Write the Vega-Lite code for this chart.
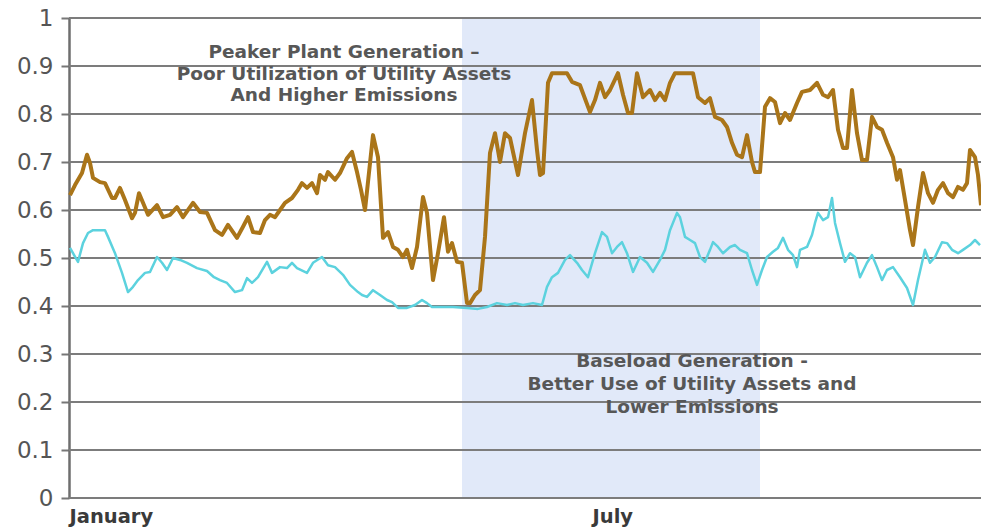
{
  "$schema": "https://vega.github.io/schema/vega-lite/v6.json",
  "width": 912,
  "height": 480,
  "autosize": {"type": "none"},
  "padding": {"left": 69, "top": 18, "right": 0, "bottom": 33},
  "background": "white",
  "config": {"view": {"stroke": null}},
  "layer": [
    {
      "data": {"values": [{"d": 157.2, "e": 276.4}]},
      "mark": {"type": "rect", "color": "#E1E9F9"},
      "encoding": {
        "x": {"field": "d", "type": "quantitative", "scale": {"domain": [0, 364.8]},
          "axis": {"title": null, "values": [0, 209.2], "labelExpr": "datum.value < 100 ? 'January' : 'July'", "labelAlign": "left", "labelFont": "DejaVu Sans", "labelFontWeight": "bold", "labelFontSize": 19.5, "labelColor": "#3a3a3a", "ticks": false, "tickSize": 0, "labelPadding": 9, "domain": false, "grid": false, "labelFlush": false, "labelOverlap": false}},
        "x2": {"field": "e"}
      }
    },
    {
      "data": {"values": [{"v": 0}, {"v": 0.1}, {"v": 0.2}, {"v": 0.3}, {"v": 0.4}, {"v": 0.5}, {"v": 0.6}, {"v": 0.7}, {"v": 0.8}, {"v": 0.9}, {"v": 1}]},
      "mark": {"type": "rule", "color": "#7c7c7c", "strokeWidth": 2},
      "encoding": {
        "y": {"field": "v", "type": "quantitative", "scale": {"domain": [0, 1]},
          "axis": {"title": null, "values": [0, 0.1, 0.2, 0.3, 0.4, 0.5, 0.6, 0.7, 0.8, 0.9, 1], "format": ".1~f", "labelFont": "DejaVu Sans", "labelFontSize": 23, "labelColor": "#555555", "tickSize": 8, "tickColor": "#777777", "tickWidth": 2, "labelPadding": 8, "domainColor": "#6e6e6e", "domainWidth": 2.5, "grid": false}}
      }
    },
    {
      "data": {"values": [
        {"d":0.4,"v":0.631},{"d":2.4,"v":0.652},{"d":5.2,"v":0.677},{"d":7.2,"v":0.715},{"d":8.4,"v":0.698},{"d":9.6,"v":0.667},{"d":12.4,"v":0.658},{"d":14.4,"v":0.656},{"d":17.2,"v":0.625},{"d":18.4,"v":0.625},{"d":20.4,"v":0.646},{"d":22.4,"v":0.621},{"d":25.2,"v":0.583},{"d":26.4,"v":0.594},{"d":28,"v":0.635},{"d":29.6,"v":0.615},{"d":31.6,"v":0.59},{"d":35.2,"v":0.61},{"d":37.6,"v":0.585},{"d":40.4,"v":0.59},{"d":43.2,"v":0.606},{"d":45.6,"v":0.585},{"d":49.6,"v":0.615},{"d":52.4,"v":0.596},{"d":55.2,"v":0.594},{"d":58.4,"v":0.558},{"d":61.2,"v":0.548},{"d":63.6,"v":0.569},{"d":67.2,"v":0.542},{"d":69.6,"v":0.565},{"d":71.6,"v":0.585},{"d":73.6,"v":0.554},{"d":76.4,"v":0.552},{"d":78.4,"v":0.579},{"d":80.4,"v":0.59},{"d":82.4,"v":0.585},{"d":84.4,"v":0.6},{"d":86.4,"v":0.615},{"d":89.2,"v":0.625},{"d":91.6,"v":0.642},{"d":93.2,"v":0.656},{"d":95.2,"v":0.646},{"d":97.2,"v":0.656},{"d":99.2,"v":0.635},{"d":100.4,"v":0.673},{"d":102.4,"v":0.663},{"d":103.6,"v":0.679},{"d":106.4,"v":0.663},{"d":108.4,"v":0.677},{"d":111.2,"v":0.708},{"d":113.2,"v":0.721},{"d":115.2,"v":0.679},{"d":116.8,"v":0.642},{"d":118.4,"v":0.6},{"d":121.6,"v":0.756},{"d":123.6,"v":0.71},{"d":125.6,"v":0.542},{"d":127.6,"v":0.554},{"d":129.6,"v":0.523},{"d":131.6,"v":0.517},{"d":133.6,"v":0.502},{"d":135.2,"v":0.517},{"d":137.2,"v":0.479},{"d":139.2,"v":0.523},{"d":141.6,"v":0.627},{"d":143.2,"v":0.594},{"d":145.6,"v":0.454},{"d":147.6,"v":0.51},{"d":150,"v":0.585},{"d":151.6,"v":0.513},{"d":153.2,"v":0.531},{"d":155.2,"v":0.492},{"d":157.2,"v":0.49},{"d":159.2,"v":0.406},{"d":160.4,"v":0.406},{"d":162.4,"v":0.423},{"d":164.4,"v":0.433},{"d":166.4,"v":0.544},{"d":168.4,"v":0.719},{"d":170.4,"v":0.76},{"d":172.4,"v":0.7},{"d":174.4,"v":0.76},{"d":176.4,"v":0.75},{"d":179.6,"v":0.673},{"d":182.4,"v":0.76},{"d":185.2,"v":0.829},{"d":187.2,"v":0.725},{"d":188.4,"v":0.673},{"d":189.6,"v":0.677},{"d":191.6,"v":0.865},{"d":193.2,"v":0.885},{"d":199.2,"v":0.885},{"d":201.2,"v":0.867},{"d":204.4,"v":0.86},{"d":208.4,"v":0.804},{"d":210.4,"v":0.829},{"d":212.4,"v":0.865},{"d":214.4,"v":0.835},{"d":216.4,"v":0.85},{"d":219.6,"v":0.885},{"d":221.6,"v":0.84},{"d":223.6,"v":0.802},{"d":225.2,"v":0.802},{"d":227.2,"v":0.885},{"d":229.6,"v":0.835},{"d":232.4,"v":0.85},{"d":234.4,"v":0.829},{"d":236.4,"v":0.844},{"d":238.4,"v":0.829},{"d":240.4,"v":0.865},{"d":242.4,"v":0.885},{"d":249.6,"v":0.885},{"d":251.6,"v":0.835},{"d":254.4,"v":0.823},{"d":256.4,"v":0.833},{"d":258.4,"v":0.794},{"d":261.2,"v":0.7875},{"d":263.2,"v":0.773},{"d":265.2,"v":0.74},{"d":267.2,"v":0.715},{"d":269.2,"v":0.71},{"d":271.2,"v":0.756},{"d":273.2,"v":0.7},{"d":274.4,"v":0.679},{"d":276.4,"v":0.679},{"d":278.4,"v":0.815},{"d":280.4,"v":0.833},{"d":282.4,"v":0.825},{"d":284.4,"v":0.781},{"d":286.4,"v":0.802},{"d":288.4,"v":0.7875},{"d":291.2,"v":0.823},{"d":293.2,"v":0.846},{"d":296.4,"v":0.85},{"d":299.2,"v":0.865},{"d":301.6,"v":0.84},{"d":303.6,"v":0.835},{"d":305.6,"v":0.85},{"d":307.6,"v":0.767},{"d":309.6,"v":0.729},{"d":311.2,"v":0.729},{"d":313.2,"v":0.85},{"d":315.2,"v":0.76},{"d":317.2,"v":0.704},{"d":319.2,"v":0.704},{"d":321.2,"v":0.794},{"d":323.2,"v":0.773},{"d":325.2,"v":0.767},{"d":327.2,"v":0.74},{"d":329.6,"v":0.71},{"d":331.2,"v":0.663},{"d":332.4,"v":0.683},{"d":334.4,"v":0.621},{"d":336.4,"v":0.558},{"d":337.6,"v":0.527},{"d":339.6,"v":0.606},{"d":341.6,"v":0.677},{"d":343.6,"v":0.635},{"d":345.6,"v":0.615},{"d":347.6,"v":0.642},{"d":349.6,"v":0.656},{"d":351.6,"v":0.635},{"d":353.6,"v":0.627},{"d":355.6,"v":0.648},{"d":357.6,"v":0.642},{"d":359.2,"v":0.656},{"d":360.4,"v":0.725},{"d":362.4,"v":0.71},{"d":363.6,"v":0.673},{"d":364.8,"v":0.61}
      ]},
      "mark": {"type": "line", "color": "#AA7519", "strokeWidth": 4, "strokeJoin": "round"},
      "encoding": {
        "x": {"field": "d", "type": "quantitative", "scale": {"domain": [0, 364.8]},
          "axis": {"title": null, "values": [0, 209.2], "labelExpr": "datum.value < 100 ? 'January' : 'July'", "labelAlign": "left", "labelFont": "DejaVu Sans", "labelFontWeight": "bold", "labelFontSize": 19.5, "labelColor": "#3a3a3a", "ticks": false, "tickSize": 0, "labelPadding": 9, "domain": false, "grid": false, "labelFlush": false, "labelOverlap": false}},
        "y": {"field": "v", "type": "quantitative", "scale": {"domain": [0, 1]},
          "axis": {"title": null, "values": [0, 0.1, 0.2, 0.3, 0.4, 0.5, 0.6, 0.7, 0.8, 0.9, 1], "format": ".1~f", "labelFont": "DejaVu Sans", "labelFontSize": 23, "labelColor": "#555555", "tickSize": 8, "tickColor": "#777777", "tickWidth": 2, "labelPadding": 8, "domainColor": "#6e6e6e", "domainWidth": 2.5, "grid": false}}
      }
    },
    {
      "data": {"values": [
        {"d":0.4,"v":0.521},{"d":1.6,"v":0.51},{"d":3.6,"v":0.492},{"d":5.6,"v":0.531},{"d":7.6,"v":0.552},{"d":9.6,"v":0.558},{"d":14.4,"v":0.558},{"d":15.6,"v":0.544},{"d":18.4,"v":0.51},{"d":21.2,"v":0.469},{"d":23.6,"v":0.429},{"d":25.6,"v":0.44},{"d":27.6,"v":0.454},{"d":30.4,"v":0.469},{"d":32.4,"v":0.471},{"d":35.2,"v":0.502},{"d":37.2,"v":0.49},{"d":39.2,"v":0.475},{"d":41.6,"v":0.5},{"d":44.4,"v":0.496},{"d":47.2,"v":0.49},{"d":51.2,"v":0.479},{"d":55.2,"v":0.473},{"d":58,"v":0.46},{"d":60.4,"v":0.454},{"d":63.2,"v":0.448},{"d":66.4,"v":0.429},{"d":69.2,"v":0.433},{"d":71.2,"v":0.458},{"d":73.2,"v":0.448},{"d":75.6,"v":0.46},{"d":79.2,"v":0.492},{"d":81.2,"v":0.469},{"d":84.4,"v":0.481},{"d":87.2,"v":0.479},{"d":89.2,"v":0.49},{"d":91.2,"v":0.479},{"d":95.2,"v":0.469},{"d":97.6,"v":0.49},{"d":101.2,"v":0.502},{"d":103.6,"v":0.485},{"d":106.4,"v":0.481},{"d":109.6,"v":0.465},{"d":112.4,"v":0.444},{"d":115.6,"v":0.429},{"d":117.2,"v":0.423},{"d":119.2,"v":0.419},{"d":121.6,"v":0.433},{"d":124.4,"v":0.423},{"d":127.2,"v":0.4125},{"d":129.2,"v":0.408},{"d":131.6,"v":0.396},{"d":135.2,"v":0.396},{"d":138.4,"v":0.402},{"d":141.2,"v":0.4125},{"d":143.2,"v":0.406},{"d":145.2,"v":0.398},{"d":149.6,"v":0.398},{"d":153.6,"v":0.398},{"d":159.2,"v":0.396},{"d":163.6,"v":0.394},{"d":167.2,"v":0.398},{"d":171.2,"v":0.406},{"d":175.2,"v":0.402},{"d":178.4,"v":0.406},{"d":181.6,"v":0.402},{"d":185.6,"v":0.406},{"d":189.2,"v":0.402},{"d":191.2,"v":0.44},{"d":193.2,"v":0.46},{"d":195.6,"v":0.469},{"d":198.4,"v":0.496},{"d":200.4,"v":0.506},{"d":203.2,"v":0.49},{"d":205.2,"v":0.475},{"d":207.6,"v":0.46},{"d":210.4,"v":0.51},{"d":213.2,"v":0.554},{"d":215.2,"v":0.544},{"d":217.2,"v":0.51},{"d":219.2,"v":0.523},{"d":221.2,"v":0.533},{"d":223.2,"v":0.51},{"d":225.6,"v":0.471},{"d":228.4,"v":0.502},{"d":231.2,"v":0.49},{"d":233.6,"v":0.471},{"d":236.4,"v":0.496},{"d":238.4,"v":0.517},{"d":240.4,"v":0.558},{"d":243.2,"v":0.594},{"d":244.4,"v":0.585},{"d":246.4,"v":0.544},{"d":248.4,"v":0.5375},{"d":250.4,"v":0.531},{"d":252.4,"v":0.502},{"d":254.4,"v":0.492},{"d":256.4,"v":0.517},{"d":257.6,"v":0.533},{"d":259.6,"v":0.523},{"d":261.6,"v":0.51},{"d":264.4,"v":0.523},{"d":266.4,"v":0.527},{"d":268.4,"v":0.517},{"d":271.2,"v":0.51},{"d":273.2,"v":0.475},{"d":275.2,"v":0.444},{"d":277.2,"v":0.475},{"d":279.2,"v":0.502},{"d":281.6,"v":0.513},{"d":283.6,"v":0.521},{"d":285.6,"v":0.542},{"d":287.6,"v":0.517},{"d":289.6,"v":0.506},{"d":291.2,"v":0.481},{"d":292.4,"v":0.517},{"d":295.2,"v":0.523},{"d":297.2,"v":0.548},{"d":298.4,"v":0.573},{"d":299.6,"v":0.594},{"d":301.6,"v":0.579},{"d":303.6,"v":0.585},{"d":305.2,"v":0.625},{"d":306.4,"v":0.573},{"d":308.4,"v":0.531},{"d":310.4,"v":0.492},{"d":312.4,"v":0.51},{"d":314.4,"v":0.502},{"d":316.4,"v":0.46},{"d":319.2,"v":0.49},{"d":321.2,"v":0.506},{"d":323.2,"v":0.481},{"d":325.2,"v":0.454},{"d":327.2,"v":0.475},{"d":329.6,"v":0.481},{"d":332.4,"v":0.46},{"d":335.2,"v":0.4375},{"d":337.6,"v":0.402},{"d":339.6,"v":0.454},{"d":342.4,"v":0.517},{"d":344.4,"v":0.49},{"d":346.4,"v":0.502},{"d":349.2,"v":0.533},{"d":351.2,"v":0.531},{"d":353.2,"v":0.517},{"d":355.6,"v":0.51},{"d":357.6,"v":0.517},{"d":360.4,"v":0.527},{"d":362.4,"v":0.5375},{"d":364.4,"v":0.527}
      ]},
      "mark": {"type": "line", "color": "#5CD2DE", "strokeWidth": 2.5, "strokeJoin": "round"},
      "encoding": {
        "x": {"field": "d", "type": "quantitative", "scale": {"domain": [0, 364.8]},
          "axis": {"title": null, "values": [0, 209.2], "labelExpr": "datum.value < 100 ? 'January' : 'July'", "labelAlign": "left", "labelFont": "DejaVu Sans", "labelFontWeight": "bold", "labelFontSize": 19.5, "labelColor": "#3a3a3a", "ticks": false, "tickSize": 0, "labelPadding": 9, "domain": false, "grid": false, "labelFlush": false, "labelOverlap": false}},
        "y": {"field": "v", "type": "quantitative", "scale": {"domain": [0, 1]},
          "axis": {"title": null, "values": [0, 0.1, 0.2, 0.3, 0.4, 0.5, 0.6, 0.7, 0.8, 0.9, 1], "format": ".1~f", "labelFont": "DejaVu Sans", "labelFontSize": 23, "labelColor": "#555555", "tickSize": 8, "tickColor": "#777777", "tickWidth": 2, "labelPadding": 8, "domainColor": "#6e6e6e", "domainWidth": 2.5, "grid": false}}
      }
    },
    {
      "data": {"values": [
        {"t": "Peaker Plant Generation –", "d": 110, "v": 0.9167},
        {"t": "Poor Utilization of Utility Assets", "d": 110, "v": 0.8708},
        {"t": "And Higher Emissions", "d": 110, "v": 0.827},
        {"t": "Baseload Generation -", "d": 249.2, "v": 0.273},
        {"t": "Better Use of Utility Assets and", "d": 249.2, "v": 0.225},
        {"t": "Lower Emissions", "d": 249.2, "v": 0.177}
      ]},
      "mark": {"type": "text", "align": "center", "baseline": "alphabetic", "font": "DejaVu Sans", "fontWeight": "bold", "fontSize": 18.5, "color": "#575757"},
      "encoding": {
        "x": {"field": "d", "type": "quantitative", "scale": {"domain": [0, 364.8]},
          "axis": {"title": null, "values": [0, 209.2], "labelExpr": "datum.value < 100 ? 'January' : 'July'", "labelAlign": "left", "labelFont": "DejaVu Sans", "labelFontWeight": "bold", "labelFontSize": 19.5, "labelColor": "#3a3a3a", "ticks": false, "tickSize": 0, "labelPadding": 9, "domain": false, "grid": false, "labelFlush": false, "labelOverlap": false}},
        "y": {"field": "v", "type": "quantitative", "scale": {"domain": [0, 1]},
          "axis": {"title": null, "values": [0, 0.1, 0.2, 0.3, 0.4, 0.5, 0.6, 0.7, 0.8, 0.9, 1], "format": ".1~f", "labelFont": "DejaVu Sans", "labelFontSize": 23, "labelColor": "#555555", "tickSize": 8, "tickColor": "#777777", "tickWidth": 2, "labelPadding": 8, "domainColor": "#6e6e6e", "domainWidth": 2.5, "grid": false}},
        "text": {"field": "t"}
      }
    }
  ]
}
